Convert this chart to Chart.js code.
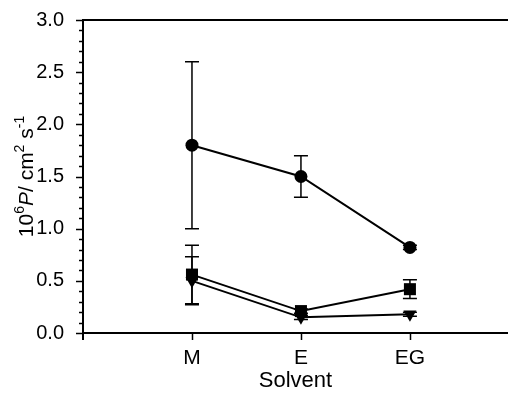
<!DOCTYPE html>
<html>
<head>
<meta charset="utf-8">
<script src="https://cdn.jsdelivr.net/npm/chart.js@4.4.1/dist/chart.umd.min.js"></script>
<style>
  html, body { margin: 0; padding: 0; background: #fff; overflow: hidden; }
  canvas { display: block; }
</style>
</head>
<body>
<canvas id="chart" width="508" height="397"></canvas>
<script>
// ── Data ───────────────────────────────────────────────────────
const solvents = ['M', 'E', 'EG'];
const solventPos = [1, 2, 3];

const circleVals = [1.80, 1.50, 0.82];
const circleErr = [0.80, 0.20, 0.02];

const squareVals = [0.56, 0.21, 0.42];
const squareErr = [0.28, 0.02, 0.09];

const triangleVals = [0.50, 0.15, 0.18];
const triangleErr = [0.23, 0.02, 0.02];

const yMajorStep = 0.5;

const FONT = '"Liberation Sans", Arial, sans-serif';

function points(vals) {
  return vals.map((v, i) => ({ x: solventPos[i], y: v }));
}

// ── Error bars, axis ticks, frame and y title ──────────────────
const errorSets = [circleErr, squareErr, triangleErr];

const plotDecor = {
  id: 'plotDecor',
  beforeDatasetsDraw(chart) {
    const { ctx, scales: { x, y } } = chart;
    ctx.save();
    ctx.strokeStyle = '#000';
    ctx.lineWidth = 1.5;
    chart.data.datasets.forEach((ds, d) => {
      const errs = errorSets[d];
      ds.data.forEach((p, i) => {
        const px = x.getPixelForValue(p.x);
        const top = y.getPixelForValue(p.y + errs[i]);
        const bot = y.getPixelForValue(p.y - errs[i]);
        ctx.beginPath();
        ctx.moveTo(px, top); ctx.lineTo(px, bot);
        ctx.moveTo(px - 7, top); ctx.lineTo(px + 7, top);
        ctx.moveTo(px - 7, bot); ctx.lineTo(px + 7, bot);
        ctx.stroke();
      });
    });
    ctx.restore();
  },
  afterDraw(chart) {
    const { ctx, chartArea: area, scales: { x, y } } = chart;
    ctx.save();
    ctx.strokeStyle = '#000';

    // top frame line
    ctx.lineWidth = 2;
    ctx.beginPath();
    ctx.moveTo(area.left - 1, area.top);
    ctx.lineTo(chart.width, area.top);
    ctx.stroke();

    // y ticks: long on labelled values, short in between
    ctx.lineWidth = 1.5;
    y.ticks.forEach((t, i) => {
      const py = Math.round(y.getPixelForTick(i)) + 0.5;
      const r = t.value / yMajorStep;
      const len = Math.abs(r - Math.round(r)) < 1e-6 ? 7 : 4;
      ctx.beginPath();
      ctx.moveTo(area.left - len, py);
      ctx.lineTo(area.left, py);
      ctx.stroke();
    });

    // x ticks point down
    x.ticks.forEach((t, i) => {
      if (!Number.isInteger(t.value)) return;
      const px = Math.round(x.getPixelForTick(i)) + (t.value === 0 ? 0 : 0.5);
      ctx.lineWidth = t.value === 0 ? 2 : 1.5;
      ctx.beginPath();
      ctx.moveTo(px, area.bottom);
      ctx.lineTo(px, area.bottom + 7);
      ctx.stroke();
    });

    // y axis title: 10^6 P / cm^2 s^-1
    const parts = [
      { t: '10', f: '21px ' + FONT, dy: 0 },
      { t: '6', f: '14px ' + FONT, dy: -9 },
      { t: 'P', f: 'italic 21px ' + FONT, dy: 0 },
      { t: '/ cm', f: '21px ' + FONT, dy: 0 },
      { t: '2', f: '14px ' + FONT, dy: -9 },
      { t: ' s', f: '21px ' + FONT, dy: 0 },
      { t: '-1', f: '14px ' + FONT, dy: -9 }
    ];
    let total = 0;
    parts.forEach(p => { ctx.font = p.f; p.w = ctx.measureText(p.t).width; total += p.w; });
    ctx.translate(33, (area.top + area.bottom) / 2);
    ctx.rotate(-Math.PI / 2);
    ctx.fillStyle = '#000';
    ctx.textBaseline = 'alphabetic';
    let cx = -total / 2;
    parts.forEach(p => {
      ctx.font = p.f;
      ctx.fillText(p.t, cx, p.dy);
      cx += p.w;
    });
    ctx.restore();
  }
};

// ── Chart ──────────────────────────────────────────────────────
const lineStyle = {
  borderColor: '#000',
  backgroundColor: '#000',
  borderWidth: 2,
  pointBackgroundColor: '#000',
  pointBorderColor: '#000',
  pointBorderWidth: 0,
  tension: 0,
  clip: false
};

new Chart(document.getElementById('chart'), {
  type: 'line',
  data: {
    datasets: [
      { ...lineStyle, label: 'circle', data: points(circleVals), pointStyle: 'circle', pointRadius: 6.5 },
      { ...lineStyle, label: 'square', data: points(squareVals), pointStyle: 'rect', pointRadius: 8.5 },
      { ...lineStyle, label: 'triangle', data: points(triangleVals), pointStyle: 'triangle', pointRadius: 7.5, pointRotation: 180 }
    ]
  },
  options: {
    responsive: false,
    animation: false,
    layout: { autoPadding: false, padding: { top: 20, left: 0, right: 0, bottom: 0 } },
    plugins: {
      legend: { display: false },
      tooltip: { enabled: false }
    },
    scales: {
      x: {
        type: 'linear',
        min: 0,
        max: 3.9,
        afterFit: s => { s.height = 64; s.paddingRight = 0; s.paddingLeft = 0; },
        grid: { display: false },
        border: { display: true, color: '#000', width: 2 },
        ticks: {
          stepSize: 1,
          autoSkip: false,
          maxRotation: 0,
          padding: 5,
          color: '#000',
          font: { family: FONT, size: 21 },
          callback: v => solvents[solventPos.indexOf(v)] || ''
        },
        title: {
          display: true,
          text: 'Solvent',
          color: '#000',
          font: { family: FONT, size: 22 },
          padding: { top: 0, bottom: 3 }
        }
      },
      y: {
        min: 0,
        max: 3,
        afterFit: s => { s.width = 83; s.paddingTop = 0; s.paddingBottom = 0; },
        grid: { display: false },
        border: { display: true, color: '#000', width: 2 },
        ticks: {
          stepSize: 0.1,
          autoSkip: false,
          padding: 11,
          color: '#000',
          font: { family: FONT, size: 20 },
          callback: v => {
            const r = v / yMajorStep;
            return Math.abs(r - Math.round(r)) < 1e-6 ? v.toFixed(1) : '';
          }
        }
      }
    }
  },
  plugins: [plotDecor]
});
</script>
</body>
</html>
